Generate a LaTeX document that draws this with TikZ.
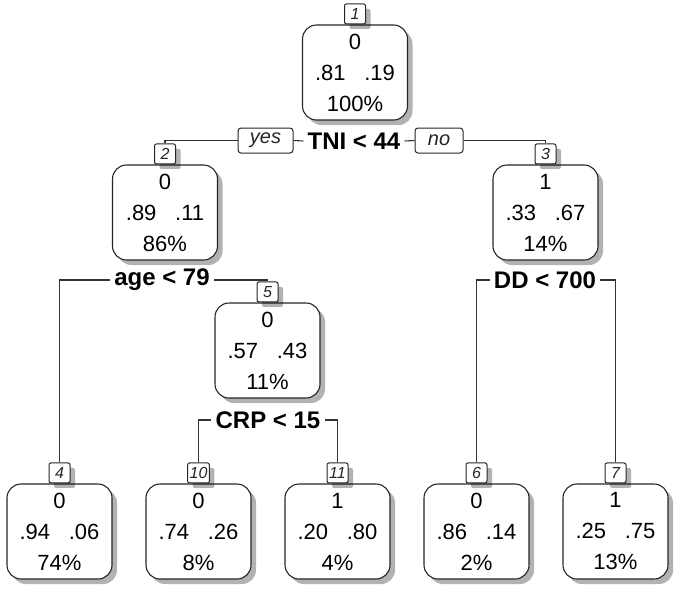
\documentclass[tikz,border=0pt]{standalone}
\usepackage{fontspec}
\setmainfont{Liberation Sans}
\usetikzlibrary{shadows}
\begin{document}
\begin{tikzpicture}[x=1pt,y=-1pt,
  shad/.style={drop shadow={shadow xshift=5pt, shadow yshift=-5pt, fill=black, opacity=0.3}},
  mainbox/.style={shad, draw=black!85, line width=1.1pt, rounded corners=14pt, fill=white,
    minimum width=105pt, minimum height=95pt, align=center, inner sep=0pt,
    font=\fontsize{22}{31}\selectfont, text=black},
  numbox/.style={shad, draw=black!85, line width=1pt, fill=white, rounded corners=2pt,
    minimum width=21pt, minimum height=20pt, inner sep=2pt, anchor=south,
    font=\fontsize{16}{16}\selectfont\itshape, text=black!85},
  split/.style={font=\fontsize{24}{24}\selectfont\bfseries, inner sep=4pt, text=black},
  yn/.style={draw=black!85, line width=1pt, rounded corners=3pt, fill=white,
    font=\fontsize{20}{20}\selectfont\itshape, minimum height=25pt, inner sep=2pt, text=black!85},
  conn/.style={draw=black!80, line width=1.1pt}]
\useasboundingbox (0,0) rectangle (684,600);

% main boxes
\node[mainbox] (m1) at (355,72.5) {0\\.81\hspace{0.85em}.19\\100\%};
\node[mainbox] (m2) at (165,212.5) {0\\.89\hspace{0.85em}.11\\86\%};
\node[mainbox] (m3) at (545.5,212.5) {1\\.33\hspace{0.85em}.67\\14\%};
\node[mainbox] (m5) at (267.5,350.5) {0\\.57\hspace{0.85em}.43\\11\%};
\node[mainbox] (m4) at (59.5,531.5) {0\\.94\hspace{0.85em}.06\\74\%};
\node[mainbox] (m10) at (198.5,531.5) {0\\.74\hspace{0.85em}.26\\8\%};
\node[mainbox] (m11) at (337.5,531.5) {1\\.20\hspace{0.85em}.80\\4\%};
\node[mainbox] (m6) at (476.5,531.5) {0\\.86\hspace{0.85em}.14\\2\%};
\node[mainbox] (m7) at (615.5,531.5) {1\\.25\hspace{0.85em}.75\\13\%};

% number boxes
\node[numbox] (n1) at (m1.north) {1};
\node[numbox] (n2) at (m2.north) {2};
\node[numbox] (n3) at (m3.north) {3};
\node[numbox] (n5) at (m5.north) {5};
\node[numbox] (n4) at (m4.north) {4};
\node[numbox] (n10) at (m10.north) {10};
\node[numbox] (n11) at (m11.north) {11};
\node[numbox] (n6) at (m6.north) {6};
\node[numbox] (n7) at (m7.north) {7};

% split labels
\node[split] (tni) at (354,141) {TNI < 44};
\node[split] (age) at (162,280) {age < 79};
\node[split] (dd) at (545,280) {DD < 700};
\node[split] (crp) at (268,420) {CRP < 15};

\node[yn, minimum width=55pt] (yes) at (265.5,140.5) {yes};
\node[yn, minimum width=48pt] (no) at (439,140.5) {no};

% connectors
\draw[conn] (tni.west) -- (yes.east);
\draw[conn] (yes.west) -| (n2.north);
\draw[conn] (tni.east) -- (no.west);
\draw[conn] (no.east) -| (n3.north);
\draw[conn] (age.west) -| (n4.north);
\draw[conn] (age.east) -| (n5.north);
\draw[conn] (dd.west) -| (n6.north);
\draw[conn] (dd.east) -| (n7.north);
\draw[conn] (crp.west) -| (n10.north);
\draw[conn] (crp.east) -| (n11.north);
\end{tikzpicture}
\end{document}
